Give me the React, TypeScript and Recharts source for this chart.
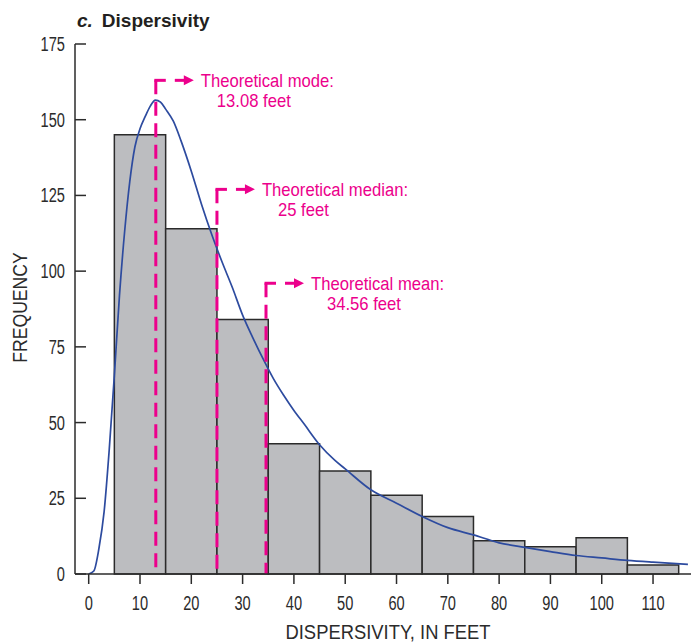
import React from "react";
import {
  ComposedChart,
  Line,
  XAxis,
  YAxis,
  ReferenceArea,
  ReferenceLine,
  ReferenceDot,
} from "recharts";

// histogram bins (feet) and counts
const binEdges = [5, 15, 25, 35, 45, 55, 65, 75, 85, 95, 105, 115];
const binCounts = [145, 114, 84, 43, 34, 26, 19, 11, 9, 12, 3];

// fitted curve
const curveX = [
  0, 1, 2, 3, 4, 5, 6, 7, 8, 9, 10, 11, 12, 13, 14, 15, 16.5, 18, 20, 22, 24,
  26, 28, 30, 32, 34, 36, 38, 40, 42, 45, 48, 50, 55, 60, 65, 70, 75, 80, 85,
  90, 95, 100, 105, 110, 116.8,
];
const curveY = [
  0, 1, 8.5, 20.5, 41, 65.5, 92, 113, 129.5, 141, 147, 151, 154.5, 156.5, 155.8,
  153.5, 149.5, 143, 133, 122, 112, 103, 94.6, 85.5, 78, 71, 64.5, 59, 54,
  49.5, 42.7, 37.5, 34.7, 27.8, 23.4, 19, 15.3, 12.9, 10.3, 8.8, 7.4, 6.1, 5.3,
  4.5, 3.9, 3.2,
];

const xTicks = [0, 10, 20, 30, 40, 50, 60, 70, 80, 90, 100, 110];
const yTicks = [0, 25, 50, 75, 100, 125, 150, 175];

// theoretical statistics callouts
const statNames = ["Theoretical mode:", "Theoretical median:", "Theoretical mean:"];
const statTexts = ["13.08 feet", "25 feet", "34.56 feet"];
const statValues = [13.08, 25, 34.56];
const statTops = [163, 127, 96];

const curveData = curveX.map((x, i) => ({ x, y: curveY[i] }));

const SANS = '"Liberation Sans", Arial, sans-serif';
const INK = "#2b2b2b";
const MAGENTA = "#EC008C";
const BLUE = "#2D4B9F";
const X_DOMAIN: [number, number] = [-2.67, 117.4];
const Y_DOMAIN: [number, number] = [0, 175];

// condensed text: no narrow face installed, so squeeze horizontally
function CondText(props: {
  x: number;
  y: number;
  sx: number;
  size: number;
  fill: string;
  anchor?: "start" | "middle" | "end";
  rotate?: number;
  children: React.ReactNode;
}) {
  const { x, y, sx, size, fill, anchor = "start", rotate = 0, children } = props;
  return (
    <text
      transform={`translate(${x},${y}) rotate(${rotate}) scale(${sx},1)`}
      textAnchor={anchor}
      fill={fill}
      fontSize={size}
      fontFamily={SANS}
    >
      {children}
    </text>
  );
}

function LeftTick(props: any) {
  const { x, y, payload } = props;
  return (
    <g>
      <line x1={x + 10} x2={x + 21} y1={y} y2={y} stroke={INK} strokeWidth={1.5} />
      <CondText x={x} y={y + 7} sx={0.75} size={19.5} fill={INK} anchor="end">
        {payload.value}
      </CondText>
    </g>
  );
}

function BottomTick(props: any) {
  const { x, y, payload } = props;
  return (
    <CondText x={x} y={y + 13.8} sx={0.75} size={19.5} fill={INK} anchor="middle">
      {payload.value}
    </CondText>
  );
}

function XTitle(props: any) {
  const vb = props.viewBox;
  return (
    <CondText x={vb.x + vb.width / 2 + 5} y={vb.y + vb.height - 5} sx={0.92} size={20} fill={INK} anchor="middle">
      DISPERSIVITY, IN FEET
    </CondText>
  );
}

function YTitle(props: any) {
  const vb = props.viewBox;
  return (
    <CondText x={vb.x + 26.5} y={vb.y + vb.height / 2 - 1.5} sx={0.88} size={20} fill={INK} anchor="middle" rotate={-90}>
      FREQUENCY
    </CondText>
  );
}

function Callout({ cx, cy, name, text }: { cx: number; cy: number; name: string; text: string }) {
  return (
    <g>
      <line x1={cx - 1.5} x2={cx + 10} y1={cy} y2={cy} stroke={MAGENTA} strokeWidth={3} />
      <line x1={cx + 19} x2={cx + 29} y1={cy} y2={cy} stroke={MAGENTA} strokeWidth={3} />
      <path d={`M${cx + 28},${cy - 5} L${cx + 38},${cy} L${cx + 28},${cy + 5} Z`} fill={MAGENTA} />
      <CondText x={cx + 45} y={cy + 6.6} sx={0.9} size={18.5} fill={MAGENTA}>
        {name}
      </CondText>
      <CondText x={cx + 61} y={cy + 26.6} sx={0.9} size={18.5} fill={MAGENTA}>
        {text}
      </CondText>
    </g>
  );
}

export default function App() {
  const frame = { stroke: INK, strokeWidth: 1.5 };
  return (
    <div style={{ position: "absolute", left: 0, top: 0, width: 692, height: 644 }}>
      <div
        style={{
          position: "absolute",
          left: 77,
          top: 10.5,
          fontFamily: SANS,
          fontWeight: "bold",
          fontSize: 19,
          lineHeight: "19px",
          color: "#231F20",
          whiteSpace: "nowrap",
        }}
      >
        <i>c.</i>
        <span style={{ marginLeft: 9 }}>Dispersivity</span>
      </div>

      <ComposedChart
        width={692}
        height={644}
        data={curveData}
        margin={{ top: 44, right: 1, bottom: 0, left: 0 }}
      >
        <XAxis
          xAxisId="b"
          dataKey="x"
          type="number"
          domain={X_DOMAIN}
          ticks={xTicks}
          allowDataOverflow
          height={70}
          tickSize={10}
          tickMargin={12}
          axisLine={frame}
          tickLine={frame}
          tick={(p: any) => <BottomTick {...p} />}
          label={{ content: (p: any) => <XTitle {...p} /> }}
        />
        <XAxis
          xAxisId="t"
          dataKey="x"
          type="number"
          orientation="top"
          domain={X_DOMAIN}
          ticks={xTicks}
          allowDataOverflow
          mirror
          height={0}
          tickSize={12}
          axisLine={frame}
          tickLine={frame}
          tickFormatter={() => ""}
        />
        <YAxis
          yAxisId="l"
          type="number"
          domain={Y_DOMAIN}
          ticks={yTicks}
          allowDataOverflow
          width={75}
          tickSize={0}
          tickMargin={10}
          axisLine={frame}
          tickLine={false}
          tick={(p: any) => <LeftTick {...p} />}
          label={{ content: (p: any) => <YTitle {...p} /> }}
        />
        <YAxis
          yAxisId="r"
          type="number"
          orientation="right"
          domain={Y_DOMAIN}
          ticks={yTicks}
          allowDataOverflow
          mirror
          width={0}
          tickSize={10}
          axisLine={frame}
          tickLine={frame}
          tickFormatter={() => ""}
        />

        {binCounts.map((c, i) => (
          <ReferenceArea
            key={`bin-${i}`}
            xAxisId="b"
            yAxisId="l"
            x1={binEdges[i]}
            x2={binEdges[i + 1]}
            y1={0}
            y2={c}
            fill="#BCBDC0"
            fillOpacity={1}
            stroke={INK}
            strokeWidth={1.5}
          />
        ))}

        <Line
          xAxisId="b"
          yAxisId="l"
          dataKey="y"
          type="monotone"
          stroke={BLUE}
          strokeWidth={1.7}
          dot={false}
          activeDot={false}
          isAnimationActive={false}
        />

        {statValues.map((v, i) => (
          <ReferenceLine
            key={`stat-line-${i}`}
            xAxisId="b"
            yAxisId="l"
            segment={[
              { x: v, y: statTops[i] },
              { x: v, y: 0 },
            ]}
            stroke={MAGENTA}
            strokeWidth={3}
            strokeDasharray="14 7.5"
          />
        ))}
        {statValues.map((v, i) => (
          <ReferenceDot
            key={`stat-dot-${i}`}
            xAxisId="b"
            yAxisId="l"
            x={v}
            y={statTops[i]}
            r={0}
            shape={(p: any) => (
              <Callout cx={p.cx} cy={p.cy} name={statNames[i]} text={statTexts[i]} />
            )}
          />
        ))}
      </ComposedChart>
    </div>
  );
}
